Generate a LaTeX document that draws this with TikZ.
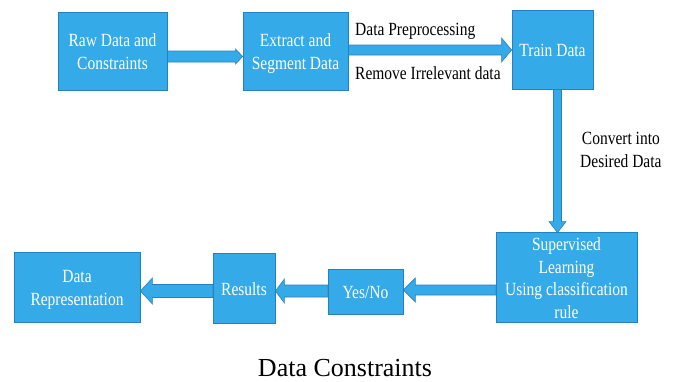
\documentclass[tikz,border=0pt]{standalone}
\usepackage{fontspec}
\usepackage{graphicx}
\setmainfont{Liberation Serif}
\usetikzlibrary{calc}

\definecolor{boxblue}{RGB}{52,171,232}
\definecolor{edgeblue}{RGB}{38,128,190}

% text set a little taller than wide, one line per \\, sitting slightly low
\newcommand\stretched[1]{\raisebox{-2.5pt}[\height][\depth]{\scalebox{1}[1.2]{\begin{tabular}{@{}c@{}}#1\end{tabular}}}}

% block arrows: start anchor, tip anchor, axis position, shaft half-width, head half-width, head length
\newcommand\arrowR[6]{%
  \draw[barrow] let \p1=(#1), \p2=(#2) in
    (\x1,{-#3pt+#4pt}) -- ({\x2-#6pt},{-#3pt+#4pt}) -- ({\x2-#6pt},{-#3pt+#5pt})
    -- (\x2,{-#3pt}) -- ({\x2-#6pt},{-#3pt-#5pt}) -- ({\x2-#6pt},{-#3pt-#4pt})
    -- (\x1,{-#3pt-#4pt}) -- cycle;}
\newcommand\arrowL[6]{%
  \draw[barrow] let \p1=(#1), \p2=(#2) in
    (\x1,{-#3pt+#4pt}) -- ({\x2+#6pt},{-#3pt+#4pt}) -- ({\x2+#6pt},{-#3pt+#5pt})
    -- (\x2,{-#3pt}) -- ({\x2+#6pt},{-#3pt-#5pt}) -- ({\x2+#6pt},{-#3pt-#4pt})
    -- (\x1,{-#3pt-#4pt}) -- cycle;}
\newcommand\arrowD[6]{%
  \draw[barrow] let \p1=(#1), \p2=(#2) in
    ({#3pt-#4pt},\y1) -- ({#3pt-#4pt},{\y2+#6pt}) -- ({#3pt-#5pt},{\y2+#6pt})
    -- (#3pt,\y2) -- ({#3pt+#5pt},{\y2+#6pt}) -- ({#3pt+#4pt},{\y2+#6pt})
    -- ({#3pt+#4pt},\y1) -- cycle;}

\tikzset{
  box/.style={draw=edgeblue, fill=boxblue, line width=0.8pt, inner sep=0pt,
    text=white, font=\fontsize{15.5}{18.8}\selectfont},
  barrow/.style={draw=edgeblue, fill=boxblue, line width=0.6pt, line join=miter},
  note/.style={inner sep=0pt, anchor=west, text=black,
    font=\fontsize{15.5}{18.8}\selectfont},
}

\begin{document}
\begin{tikzpicture}[x=1pt, y=-1pt]
\useasboundingbox (0,0) rectangle (675,381);

% process boxes
\path
  (112.5,51) node[box, minimum width=109pt, minimum height=78pt] (raw) {}
  (295.5,51) node[box, minimum width=105pt, minimum height=78pt] (ext) {}
  (552.5,49.5) node[box, minimum width=81pt, minimum height=79pt] (train) {}
  (566.5,277.5) node[box, minimum width=141pt, minimum height=89pt] (sup) {}
  (365.5,291.5) node[box, minimum width=75pt, minimum height=45pt] (yesno) {}
  (244,288) node[box, minimum width=62pt, minimum height=70pt] (res) {}
  (77,287) node[box, minimum width=126pt, minimum height=70pt] (rep) {};

% connectors
\arrowR{raw.east}{ext.west}{56.5}{5.5}{7.5}{7}
\arrowR{ext.east}{train.west}{50}{5}{12}{10}
\arrowD{train.south}{sup.north}{557.5}{4}{8.5}{11}
\arrowL{sup.west}{yesno.east}{290}{5}{12}{12}
\arrowL{yesno.west}{res.east}{291}{6}{12}{9}
\arrowL{res.west}{rep.east}{291}{6.5}{13}{12}

% redraw boxes over the arrow ends, with their labels
\node[box, minimum width=109pt, minimum height=78pt] at (raw) {\stretched{Raw Data and\\Constraints}};
\node[box, minimum width=105pt, minimum height=78pt] at (ext) {\stretched{Extract and\\Segment Data}};
\node[box, minimum width=81pt, minimum height=79pt] at (train) {\stretched{Train Data}};
\node[box, minimum width=141pt, minimum height=89pt] at (sup) {\stretched{Supervised\\Learning\\Using classification\\rule}};
\node[box, minimum width=75pt, minimum height=45pt] at (yesno) {\stretched{Yes/No}};
\node[box, minimum width=62pt, minimum height=70pt] at (res) {\stretched{Results}};
\node[box, minimum width=126pt, minimum height=70pt] at (rep) {\stretched{Data\\Representation}};

% arrow notes
\node[note] (pre) at (355,28) {\stretched{Data Preprocessing}};
\node[note] (irr) at (355,72) {\stretched{Remove Irrelevant data}};
\node[note] (conv) at (580,149) {\stretched{Convert into\\Desired Data}};

% caption
\node[inner sep=0pt, anchor=base, font=\fontsize{26}{31}\selectfont] (cap) at (345,376) {Data Constraints};
\end{tikzpicture}
\end{document}
